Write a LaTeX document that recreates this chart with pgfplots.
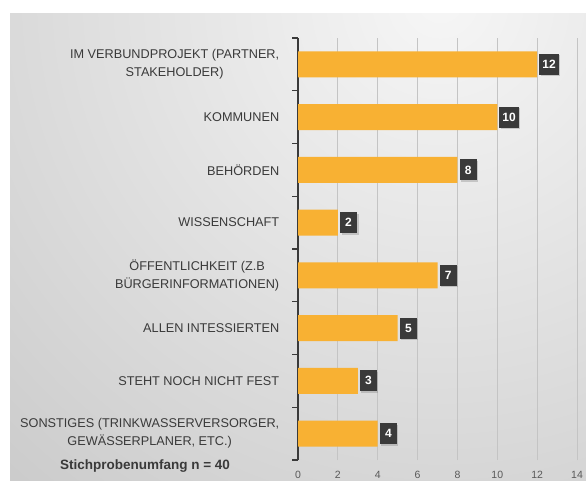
\documentclass[border=0pt]{standalone}
\usepackage{pgfplots}
\pgfplotsset{compat=1.18}
\usepackage{fontspec}
\setmainfont{Liberation Sans}
\usetikzlibrary{shadows}
\definecolor{barorange}{HTML}{F8B133}
\definecolor{labelgray}{HTML}{3A3A3A}
\definecolor{tickgray}{HTML}{595959}
\definecolor{boxgray}{HTML}{3A3A3A}
\definecolor{gridgray}{HTML}{C4C4C4}
\definecolor{bglight}{HTML}{F6F6F6}
\definecolor{bgdark}{HTML}{C8C8C8}
\begin{document}
\begin{tikzpicture}[x=1pt,y=1pt]
\useasboundingbox (0,0) rectangle (586,480);
\fill[white] (0,0) rectangle (586,480);
\begin{scope}
\clip (10,0) rectangle (586,466);
\shade[inner color=bglight, outer color=bgdark] (440,480) circle (700);
\end{scope}
\begin{axis}[
  at={(298pt,20pt)}, anchor=south west,
  scale only axis,
  width=279pt, height=422pt,
  xbar, bar width=26pt,
  xmin=0, xmax=14,
  ymin=-0.5, ymax=7.5,
  xtick={0,2,...,14},
  ytick={0,...,7},
  yticklabels={
    {SONSTIGES (TRINKWASSERVERSORGER,\\GEWÄSSERPLANER, ETC.)},
    {STEHT NOCH NICHT FEST},
    {ALLEN INTESSIERTEN},
    {ÖFFENTLICHKEIT (Z.B\\BÜRGERINFORMATIONEN)},
    {WISSENSCHAFT},
    {BEHÖRDEN},
    {KOMMUNEN},
    {IM VERBUNDPROJEKT (PARTNER,\\STAKEHOLDER)}},
  minor ytick={-0.5,0.5,...,7.5},
  axis x line*=bottom,
  axis y line*=left,
  x axis line style={draw=none},
  y axis line style={draw=labelgray, line width=1.3pt},
  xtick style={draw=none},
  ytick style={draw=none},
  minor y tick style={draw=labelgray, line width=1.3pt},
  tick align=outside,
  minor tick length=6pt,
  xmajorgrids,
  major grid style={gridgray, line width=0.8pt},
  /pgf/number format/assume math mode=true,
  yticklabel style={align=center, text=labelgray,
    font=\fontsize{12.7}{18}\selectfont, xshift=-11pt},
  xticklabel style={text=tickgray, font=\fontsize{10.5}{12}\selectfont,
    yshift=-3pt},
  nodes near coords,
  every node near coord/.append style={
    anchor=west, xshift=2pt,
    fill=boxgray, text=white,
    font=\bfseries\fontsize{12}{12}\selectfont,
    minimum height=21pt, minimum width=17pt, inner sep=3pt,
    drop shadow={opacity=0.35, shadow xshift=1.5pt, shadow yshift=-1.5pt}},
]
\addplot[fill=barorange, draw=none] coordinates {
  (4,0) (3,1) (5,2) (7,3) (2,4) (8,5) (10,6) (12,7)};
\end{axis}
\node[text=labelgray, font=\bfseries\fontsize{13.5}{14}\selectfont] at (145,14) {Stichprobenumfang n = 40};
\end{tikzpicture}
\end{document}
